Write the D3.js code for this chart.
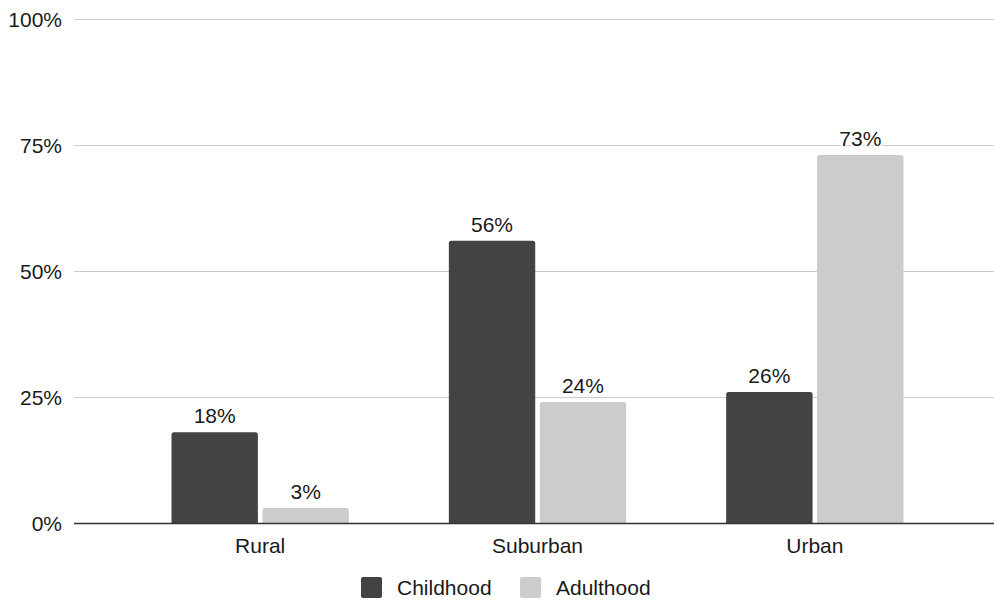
<!DOCTYPE html>
<html><head><meta charset="utf-8">
<script src="https://cdn.jsdelivr.net/npm/d3@7"></script>
<style>body{margin:0;background:#fff}svg{display:block}text{font-family:"Liberation Sans",Arial,Helvetica,sans-serif}</style>
</head><body><svg id="c" width="994" height="603"></svg>
<script>
const categories = ["Rural", "Suburban", "Urban"];
const seriesNames = ["Childhood", "Adulthood"];
const childhood = [18, 56, 26];
const adulthood = [3, 24, 73];
const yTicks = [0, 25, 50, 75, 100];
const colors = ["#434343", "#cccccc"];

const svg = d3.select("#c");
const FS = 21;
const gridLeft = 74, gridRight = 994;
const y = d3.scaleLinear().domain([0, 100]).range([523, 19]);
const x = d3.scaleBand().domain(categories).range([121.5, 953.5]).paddingInner(0).paddingOuter(0);
const inner = d3.scaleBand().domain(seriesNames).range([50, x.bandwidth() - 50]).paddingInner(0.05);

// grid
svg.append("g").selectAll("line").data(yTicks.filter(d => d > 0)).join("line")
  .attr("x1", gridLeft).attr("x2", gridRight)
  .attr("y1", d => Math.round(y(d)) + 0.5).attr("y2", d => Math.round(y(d)) + 0.5)
  .attr("stroke", "#cccccc").attr("stroke-width", 1);

// y tick labels
svg.append("g").selectAll("text").data(yTicks).join("text")
  .attr("x", 62).attr("y", d => y(d) + 7.5)
  .attr("text-anchor", "end").attr("font-size", FS).attr("fill", "#1a1a1a")
  .text(d => d + "%");

const data = categories.map((c, i) => ({ cat: c, vals: [childhood[i], adulthood[i]] }));

const groups = svg.append("g").selectAll("g").data(data).join("g")
  .attr("transform", d => `translate(${x(d.cat)},0)`);

groups.selectAll("path").data(d => d.vals.map((v, j) => ({ v, s: seriesNames[j], j }))).join("path")
  .attr("fill", d => colors[d.j])
  .attr("d", d => {
    const x0 = inner(d.s), w = inner.bandwidth(), y0 = y(d.v), y1 = y(0), r = 2.5;
    return `M${x0},${y1}V${y0 + r}Q${x0},${y0} ${x0 + r},${y0}H${x0 + w - r}Q${x0 + w},${y0} ${x0 + w},${y0 + r}V${y1}Z`;
  });

groups.selectAll("text").data(d => d.vals.map((v, j) => ({ v, s: seriesNames[j], j }))).join("text")
  .attr("x", d => inner(d.s) + inner.bandwidth() / 2)
  .attr("y", d => y(d.v) - 9)
  .attr("text-anchor", "middle").attr("font-size", FS).attr("fill", "#1a1a1a")
  .attr("stroke", "#fff").attr("stroke-width", 4).attr("paint-order", "stroke")
  .text(d => d.v + "%");

// baseline
svg.append("line").attr("x1", gridLeft).attr("x2", gridRight)
  .attr("y1", Math.round(y(0)) + 0.5).attr("y2", Math.round(y(0)) + 0.5)
  .attr("stroke", "#333").attr("stroke-width", 1.3);

// category labels
svg.append("g").selectAll("text").data(categories).join("text")
  .attr("x", d => x(d) + x.bandwidth() / 2).attr("y", 553)
  .attr("text-anchor", "middle").attr("font-size", FS).attr("fill", "#1a1a1a")
  .text(d => d);

// legend
const legendItems = [{ n: seriesNames[0], x: 361, c: colors[0] }, { n: seriesNames[1], x: 520, c: colors[1] }];
const lg = svg.append("g").selectAll("g").data(legendItems).join("g");
lg.append("rect").attr("x", d => d.x).attr("y", 577).attr("width", 21).attr("height", 21).attr("rx", 2).attr("fill", d => d.c);
lg.append("text").attr("x", d => d.x + 36).attr("y", 595).attr("font-size", FS).attr("fill", "#1a1a1a").text(d => d.n);
</script></body></html>
